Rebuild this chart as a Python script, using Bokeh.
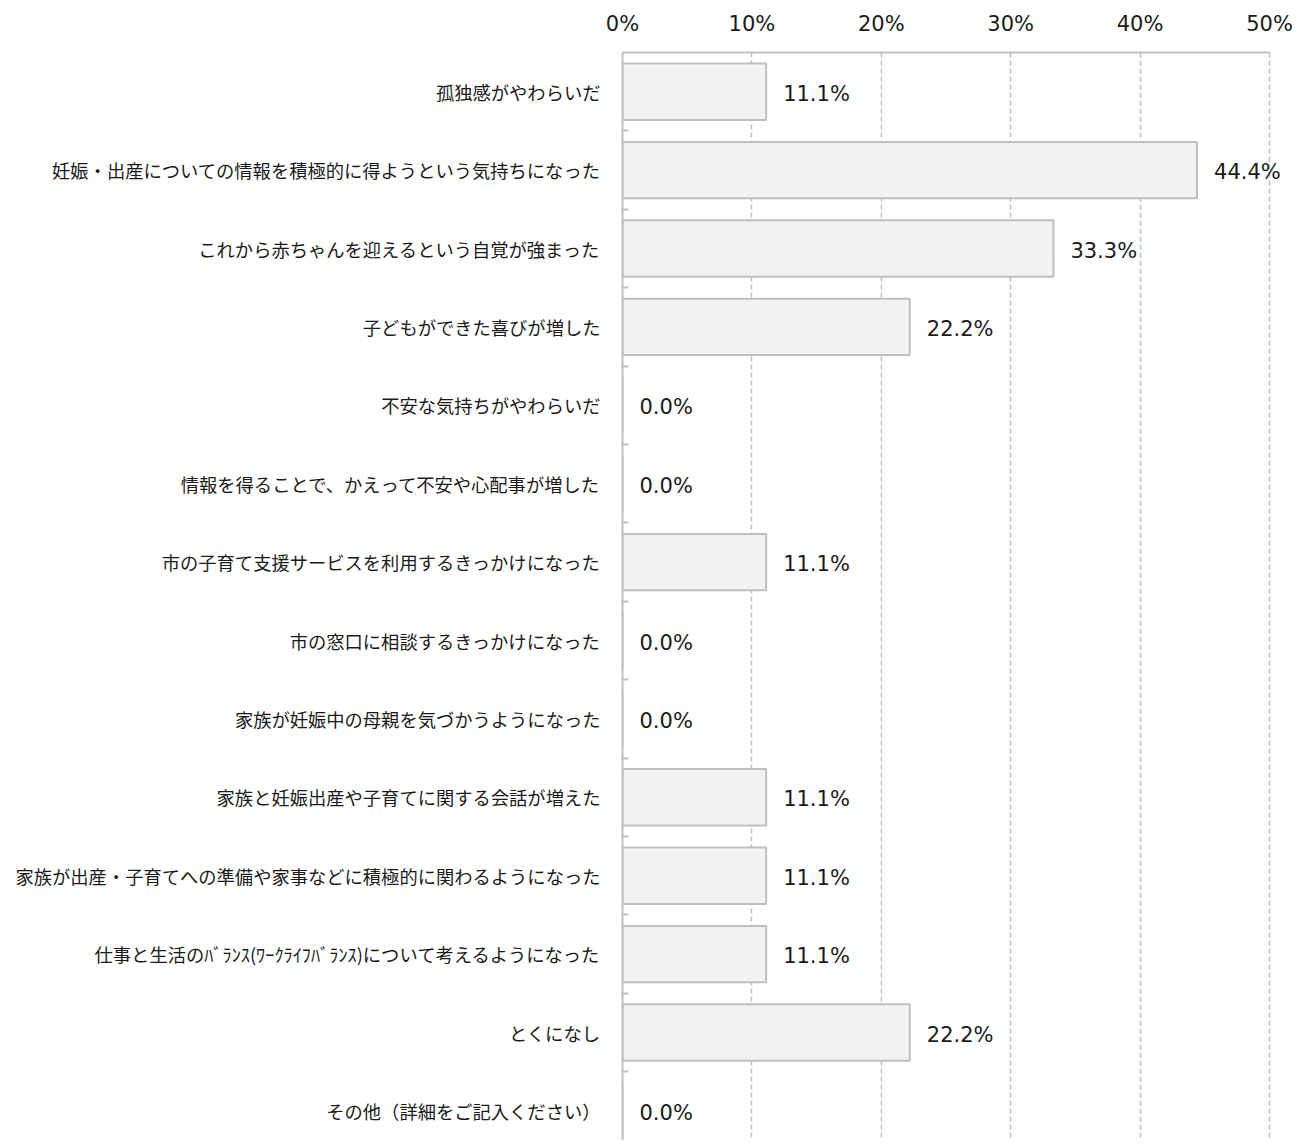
from bokeh.plotting import figure
from bokeh.models import Range1d, FixedTicker, PrintfTickFormatter, ColumnDataSource, LabelSet
from bokeh.core.properties import value
from bokeh.embed import file_html
from bokeh.resources import INLINE

categories = [
    "孤独感がやわらいだ",
    "妊娠・出産についての情報を積極的に得ようという気持ちになった",
    "これから赤ちゃんを迎えるという自覚が強まった",
    "子どもができた喜びが増した",
    "不安な気持ちがやわらいだ",
    "情報を得ることで、かえって不安や心配事が増した",
    "市の子育て支援サービスを利用するきっかけになった",
    "市の窓口に相談するきっかけになった",
    "家族が妊娠中の母親を気づかうようになった",
    "家族と妊娠出産や子育てに関する会話が増えた",
    "家族が出産・子育てへの準備や家事などに積極的に関わるようになった",
    "仕事と生活のﾊﾞﾗﾝｽ(ﾜｰｸﾗｲﾌﾊﾞﾗﾝｽ)について考えるようになった",
    "とくになし",
    "その他（詳細をご記入ください）",
]
values = [11.1, 44.4, 33.3, 22.2, 0.0, 0.0, 11.1, 0.0, 0.0, 11.1, 11.1, 11.1, 22.2, 0.0]
x_ticks = [0, 10, 20, 30, 40, 50]

n = len(categories)
idx = list(range(n))
labels = [f"{v:.1f}%" for v in values]
src = ColumnDataSource(dict(y=idx, v=values, lab=labels))

GRAY = "#bfbfbf"
W, H = 1296, 1140
top_border = 52
left_border = 622
frame_h = H - top_border
band_px = 78.4
bottom_val = -0.5 + frame_h / band_px
px_per_unit = 12.94
x_end = (W - 4 - left_border) / px_per_unit  # room for labels beyond 50%

p = figure(width=W, height=H, output_backend="svg", toolbar_location=None,
           x_range=Range1d(0, x_end), y_range=Range1d(bottom_val, -0.5),
           x_axis_location="above",
           min_border_left=left_border, min_border_right=4, min_border_top=top_border,
           min_border_bottom=0)
p.outline_line_color = None
p.background_fill_color = "white"

p.hbar(y="y", left=0, right="v", height=0.72, source=src,
       fill_color="#f2f2f2", line_color=GRAY, line_width=2)
p.add_layout(LabelSet(x="v", y="y", text="lab", source=src, x_offset=17, y_offset=-2,
                      text_baseline="middle", text_align="left", level="overlay",
                      text_font=value("DejaVu Sans"), text_font_size=value("21px"),
                      text_color="#1a1a1a"))

# x axis (top)
xa = p.xaxis[0]
xa.ticker = FixedTicker(ticks=x_ticks)
xa.bounds = (x_ticks[0], x_ticks[-1])
xa.formatter = PrintfTickFormatter(format="%d%%")
xa.axis_line_color = GRAY
xa.axis_line_width = 2
xa.major_tick_line_color = None
xa.minor_tick_line_color = None
xa.major_label_text_font = "DejaVu Sans"
xa.major_label_text_font_size = "21px"
xa.major_label_text_color = "#1a1a1a"
xa.major_label_standoff = 11

# y axis (left)
ya = p.yaxis[0]
ya.ticker = FixedTicker(ticks=idx, minor_ticks=[i + 0.5 for i in range(n - 1)])
ya.major_label_overrides = {i: c for i, c in enumerate(categories)}
ya.axis_line_color = GRAY
ya.axis_line_width = 2
ya.major_tick_line_color = None
ya.minor_tick_line_color = GRAY
ya.minor_tick_line_width = 2
ya.minor_tick_in = 6
ya.minor_tick_out = 0
ya.major_label_text_font = "Noto Sans CJK JP"
ya.major_label_text_font_size = "18.3px"
ya.major_label_text_color = "#1a1a1a"
ya.major_label_standoff = 16

p.xgrid.ticker = FixedTicker(ticks=x_ticks[1:])
p.xgrid.grid_line_color = GRAY
p.xgrid.grid_line_dash = "5 3"
p.xgrid.grid_line_width = 1.5
p.ygrid.grid_line_color = None

open("out.html", "w").write(file_html(p, INLINE))
